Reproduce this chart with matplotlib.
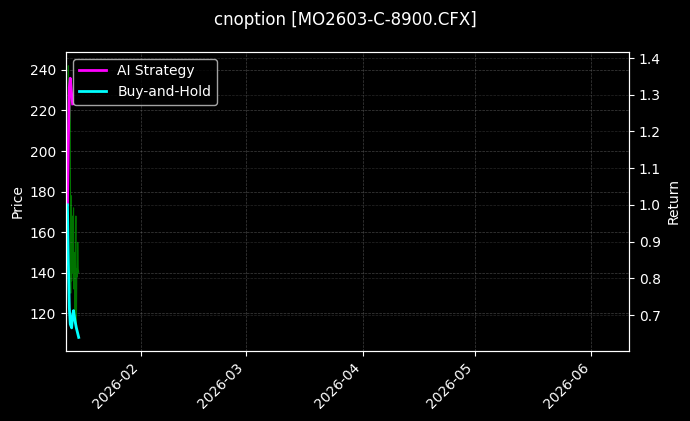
import matplotlib
matplotlib.use("Agg")
import matplotlib.pyplot as plt
import matplotlib.dates as mdates
import pandas as pd

title = "cnoption [MO2603-C-8900.CFX]"

price_times = [
    "2026-01-12 09:00", "2026-01-12 12:00", "2026-01-12 15:00", "2026-01-12 18:00",
    "2026-01-12 21:00", "2026-01-13 00:00", "2026-01-13 03:00", "2026-01-13 06:00",
    "2026-01-13 09:00", "2026-01-13 12:00", "2026-01-13 15:00", "2026-01-13 18:00",
    "2026-01-13 21:00", "2026-01-14 00:00", "2026-01-14 03:00", "2026-01-14 06:00",
    "2026-01-14 09:00", "2026-01-14 12:00", "2026-01-14 15:00", "2026-01-14 18:00",
    "2026-01-14 21:00", "2026-01-15 00:00", "2026-01-15 03:00", "2026-01-15 06:00",
    "2026-01-15 09:00",
]
price_values = [
    169, 205, 242, 215, 232, 210, 226, 130, 178, 136, 168, 140,
    160, 172, 132, 150, 116, 145, 168, 112, 142, 138, 155, 142, 140,
]

return_times = [
    "2026-01-12 09:00", "2026-01-12 15:00", "2026-01-12 21:00", "2026-01-13 03:00",
    "2026-01-13 12:00", "2026-01-13 18:00", "2026-01-14 00:00", "2026-01-14 09:00",
    "2026-01-14 18:00", "2026-01-15 09:00",
]
ai_strategy = [1.00, 1.18, 1.32, 1.345, 1.30, 1.275, None, None, None, None]
buy_and_hold = [1.00, 0.84, 0.72, 0.675, 0.665, 0.70, 0.712, 0.685, 0.665, 0.639]

plt.style.use("dark_background")
fig = plt.figure(figsize=(6.9, 4.21), dpi=100)
ax1 = fig.add_axes([0.0957, 0.1663, 0.8159, 0.7107])
ax2 = ax1.twinx()

pt = pd.to_datetime(price_times)
rt = pd.to_datetime(return_times)

ax1.plot(pt, price_values, color="green", linewidth=0.8, alpha=0.9)
ax2.plot(rt, [v if v is not None else float("nan") for v in ai_strategy],
         color="magenta", linewidth=2, label="AI Strategy")
ax2.plot(rt, buy_and_hold, color="cyan", linewidth=2, label="Buy-and-Hold")

ax1.set_ylim(101.5, 248.9)
ax2.set_ylim(0.602, 1.417)
ax1.set_xlim(pd.Timestamp("2026-01-12 00:00"), pd.Timestamp("2026-06-11 00:00"))

ax1.set_ylabel("Price")
ax2.set_ylabel("Return")

ax1.xaxis.set_major_locator(mdates.MonthLocator())
ax1.xaxis.set_major_formatter(mdates.DateFormatter("%Y-%m"))
for lab in ax1.get_xticklabels():
    lab.set_rotation(45)
    lab.set_ha("right")

ax1.grid(True, linestyle="--", linewidth=0.5, color="gray", alpha=0.5)
ax2.grid(True, linestyle="--", linewidth=0.5, color="gray", alpha=0.3)

ax2.legend(loc="upper left")
fig.suptitle(title, fontsize=12, y=0.975)

fig.savefig("out.png", dpi=100)
